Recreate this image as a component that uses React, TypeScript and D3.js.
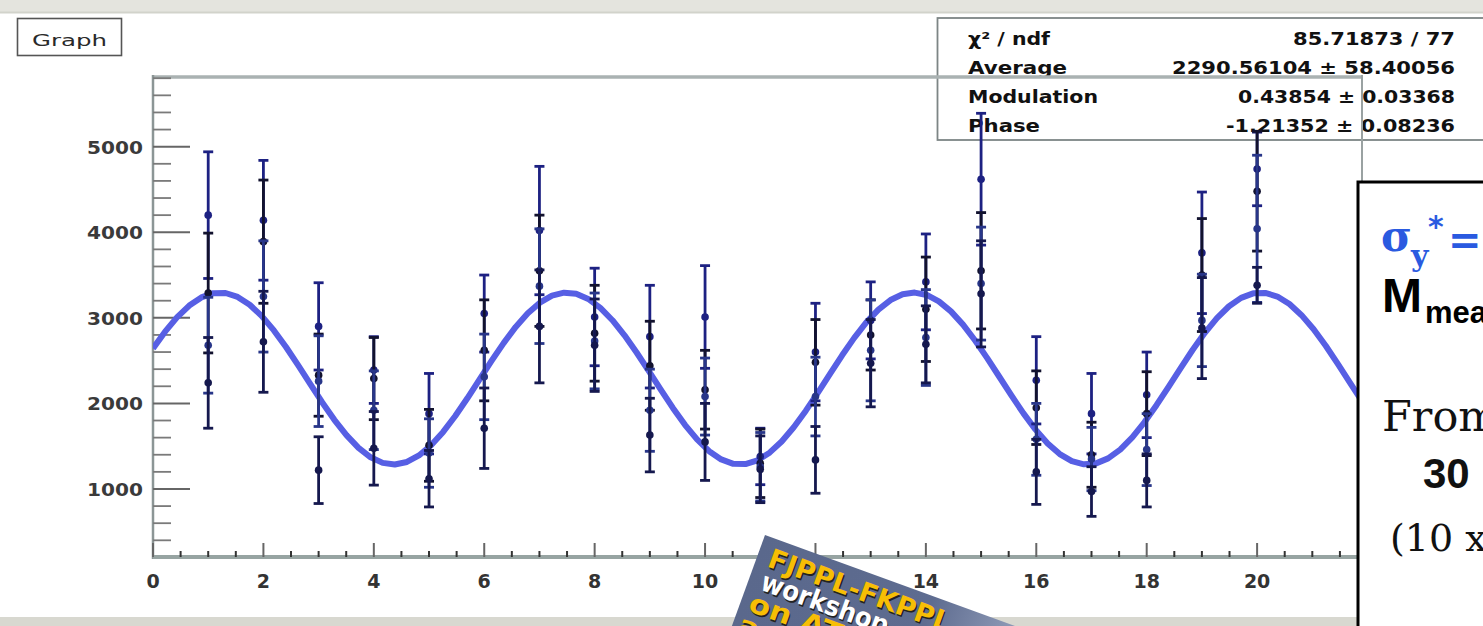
import React from "react";
import * as d3 from "d3";

const W = 1483;
const H = 626;

// ---- data ----
const xValues = [1, 2, 3, 4, 5, 6, 7, 8, 9, 10, 11, 12, 13, 14, 15, 16, 17, 18, 19, 20];
const seriesA = [4200, 4140, 2900, 2390, 1880, 3050, 4020, 3010, 2780, 3010, 1380, 2600, 2970, 3420, 4620, 2270, 1880, 2100, 3760, 4740];
const errorsA = [740, 700, 510, 390, 470, 450, 750, 570, 600, 600, 330, 570, 450, 560, 770, 510, 470, 500, 710, 430];
const seriesB = [3290, 3890, 2330, 2290, 1510, 2620, 3550, 2820, 2440, 2160, 1300, 2480, 2800, 3100, 3550, 1950, 1400, 1880, 3500, 4480];
const errorsB = [700, 720, 480, 480, 420, 590, 650, 560, 520, 460, 400, 500, 410, 610, 680, 430, 380, 490, 660, 700];
const seriesC = [2680, 3250, 2260, 1920, 1420, 2310, 3370, 2730, 1920, 2080, 1260, 2080, 2620, 2770, 3400, 1580, 1350, 1460, 2970, 4040];
const errorsC = [560, 650, 530, 460, 400, 500, 670, 560, 480, 450, 400, 460, 590, 560, 660, 420, 370, 420, 540, 860];
const seriesD = [2240, 2720, 1220, 1475, 1120, 1710, 2900, 2680, 1630, 1550, 1230, 1340, 2470, 2690, 3280, 1200, 970, 1100, 2880, 3380];
const errorsD = [530, 590, 390, 430, 330, 470, 660, 540, 430, 450, 390, 390, 510, 450, 620, 380, 290, 310, 590, 210];

const statNames = ["χ² / ndf", "Average", "Modulation", "Phase"];
const statValues = ["85.71873 / 77", "2290.56104 ± 58.40056", "0.43854 ± 0.03368", "-1.21352 ± 0.08236"];

const fitAverage = 2290.56104;
const fitModulation = 0.43854;
const fitPhase = -1.21352;

const yMajorTicks = [1000, 2000, 3000, 4000, 5000];
const xMajorTicks = [0, 2, 4, 6, 8, 10, 12, 14, 16, 18, 20];

const labelLines = ["FJPPL-FKPPL", "workshop", "on ATF2", "accelerator"];

const xScale = d3.scaleLinear().domain([0, 21.9]).range([153, 1362]);
const yScale = d3.scaleLinear().domain([205, 5826]).range([557, 76]);

const seriesList = [
  { v: seriesA, e: errorsA, color: "#1d2182" },
  { v: seriesB, e: errorsB, color: "#12122e" },
  { v: seriesC, e: errorsC, color: "#283689" },
  { v: seriesD, e: errorsD, color: "#15184e" },
];

const fitFn = (x: number) => fitAverage * (1 + fitModulation * Math.cos(x + fitPhase));

export default function App() {
  const yMinor = d3.range(400, 5801, 200).filter((v) => v % 1000 !== 0);
  const xMinor = d3.range(0, 21.9, 0.5).filter((v) => v % 2 !== 0);
  const curvePts: [number, number][] = d3
    .range(0, 101)
    .map((i) => (21.9 * i) / 100)
    .map((x) => [xScale(x), yScale(fitFn(x))]);
  const line = d3.line();

  const stRowY = [45, 74, 103, 132];
  const stLeftLen = [82, 99, 130, 72];
  const stRightLen = [162, 283, 217, 229];

  const lblStyle = [
    { y: 29, x: 12, len: 192, c: "#f7be05" },
    { y: 53, x: 13, len: 134, c: "#ffffff" },
    { y: 77, x: 9, len: 140, c: "#f7be05" },
    { y: 101, x: 6, len: 200, c: "#f7be05" },
  ];

  return (
    <svg
      width={W}
      height={H}
      viewBox={`0 0 ${W} ${H}`}
      style={{ position: "absolute", left: 0, top: 0, background: "#fff" }}
    >
      <defs>
        <linearGradient id="lblg" x1="0" x2="1" y1="0" y2="0">
          <stop offset="0" stopColor="#5a688c" />
          <stop offset="0.5" stopColor="#5e6c90" />
          <stop offset="0.72" stopColor="#8a96b3" />
          <stop offset="1" stopColor="#a4aec6" />
        </linearGradient>
        <clipPath id="plotclip">
          <rect x={153} y={60} width={1204} height={500} />
        </clipPath>
      </defs>
      {/* slide bands */}
      <rect x={0} y={0} width={W} height={12} fill="#e4e4de" />
      <line x1={0} x2={W} y1={12.5} y2={12.5} stroke="#d2d3cb" strokeWidth={2} />
      <rect x={0} y={617} width={W} height={9} fill="#d8d8d0" />

      {/* Title box */}
      <rect x={17.5} y={18.5} width={104} height={37} fill="#fff" stroke="#555" strokeWidth={1.6} />
      <text x={32} y={46} fontFamily="DejaVu Sans" fontSize={16} fill="#2a2a2a" textLength={75} lengthAdjust="spacingAndGlyphs">
        Graph
      </text>

      {/* Stats box */}
      <rect x={937.5} y={18} width={600} height={122} fill="#fff" stroke="#7d8585" strokeWidth={1.8} />
      {statNames.map((n, i) => (
        <text key={"sn" + i} x={968} y={stRowY[i]} fontFamily="DejaVu Sans" fontWeight="bold" fontSize={17} fill="#111" textLength={stLeftLen[i]} lengthAdjust="spacingAndGlyphs">
          {n}
        </text>
      ))}
      {statValues.map((n, i) => (
        <text key={"sv" + i} x={1455 - stRightLen[i]} y={stRowY[i]} fontFamily="DejaVu Sans" fontWeight="bold" fontSize={17} fill="#111" textLength={stRightLen[i]} lengthAdjust="spacingAndGlyphs">
          {n}
        </text>
      ))}

      {/* Frame */}
      <line x1={153} x2={1362} y1={77} y2={77} stroke="#aab2b2" strokeWidth={3.5} />
      <line x1={1362} x2={1362} y1={75} y2={560} stroke="#9aa2a2" strokeWidth={2} />
      <line x1={153} x2={153} y1={75} y2={559} stroke="#8c9696" strokeWidth={2.5} />
      <line x1={153} x2={1362} y1={557} y2={557} stroke="#97a4a2" strokeWidth={4} />

      {/* Y ticks */}
      {yMajorTicks.map((t) => (
        <g key={"ym" + t}>
          <line x1={153} x2={190} y1={yScale(t)} y2={yScale(t)} stroke="#666" strokeWidth={2} />
          <text x={143} y={yScale(t) + 7} textAnchor="end" fontFamily="DejaVu Sans" fontWeight="bold" fontSize={18} fill="#3a3a3a" textLength={56} lengthAdjust="spacingAndGlyphs">
            {t}
          </text>
        </g>
      ))}
      {yMinor.map((t) => (
        <line key={"yn" + t} x1={153} x2={171} y1={yScale(t)} y2={yScale(t)} stroke="#7a7a7a" strokeWidth={1.8} />
      ))}

      {/* X ticks */}
      {xMajorTicks.map((t) => (
        <g key={"xm" + t}>
          <line x1={xScale(t)} x2={xScale(t)} y1={557} y2={543} stroke="#666" strokeWidth={2} />
          <text x={xScale(t)} y={588} textAnchor="middle" fontFamily="DejaVu Sans" fontWeight="bold" fontSize={19} fill="#333">
            {t}
          </text>
        </g>
      ))}
      {xMinor.map((t) => (
        <line key={"xn" + t} x1={xScale(t)} x2={xScale(t)} y1={557} y2={551} stroke="#333" strokeWidth={2} />
      ))}

      {/* Fit curve */}
      <g clipPath="url(#plotclip)">
        <path d={line(curvePts) || ""} fill="none" stroke="#575fe4" strokeWidth={6} strokeLinejoin="round" />
      </g>

      {/* Data points with error bars */}
      {seriesList.map((s, si) => (
        <g key={"s" + si} stroke={s.color} fill={s.color}>
          {xValues.map((x, i) => {
            const cx = xScale(x);
            const yt = yScale(s.v[i] + s.e[i]);
            const yb = yScale(s.v[i] - s.e[i]);
            return (
              <g key={i}>
                <line x1={cx} x2={cx} y1={yt} y2={yb} strokeWidth={2.8} />
                <line x1={cx - 5} x2={cx + 5} y1={yt} y2={yt} strokeWidth={2.8} />
                <line x1={cx - 5} x2={cx + 5} y1={yb} y2={yb} strokeWidth={2.8} />
                <circle cx={cx} cy={yScale(s.v[i])} r={3.8} stroke="none" />
              </g>
            );
          })}
        </g>
      ))}

      {/* Right black box */}
      <rect x={1358} y={182} width={200} height={480} fill="#fff" stroke="#000" strokeWidth={3} />
      <text x={1381} y={251} fontFamily="DejaVu Serif" fontWeight="bold" fontSize={42} fill="#2a5ae0">σ</text>
      <text x={1411} y={266} fontFamily="DejaVu Serif" fontWeight="bold" fontSize={30} fill="#2a5ae0">y</text>
      <text x={1428} y={237} fontFamily="DejaVu Sans" fontWeight="bold" fontSize={30} fill="#2a5ae0">*</text>
      <text x={1448} y={254} fontFamily="DejaVu Sans" fontWeight="bold" fontSize={40} fill="#2a5ae0">=</text>
      <text x={1382} y={312} fontFamily="Liberation Sans" fontWeight="bold" fontSize={48} fill="#000">M</text>
      <text x={1425} y={323} fontFamily="Liberation Sans" fontWeight="bold" fontSize={31} fill="#000">meas</text>
      <text x={1382} y={431} fontFamily="DejaVu Serif" fontSize={43} fill="#111">From</text>
      <text x={1423} y={488} fontFamily="Liberation Sans" fontWeight="bold" fontSize={42} fill="#111">30</text>
      <text x={1390} y={551} fontFamily="DejaVu Serif" fontSize={38} fill="#111">(10 x</text>

      {/* Rotated workshop label */}
      <g transform="translate(765,535) rotate(20)">
        <rect x={0} y={0} width={360} height={220} fill="url(#lblg)" />
        {labelLines.map((t, i) => {
          const l = lblStyle[i];
          return (
            <g key={"lb" + i}>
              <text x={l.x + 1.5} y={l.y + 1.5} fontFamily="DejaVu Sans" fontWeight="bold" fontSize={27} fill="#222" textLength={l.len} lengthAdjust="spacingAndGlyphs">
                {t}
              </text>
              <text x={l.x} y={l.y} fontFamily="DejaVu Sans" fontWeight="bold" fontSize={27} fill={l.c} textLength={l.len} lengthAdjust="spacingAndGlyphs">
                {t}
              </text>
            </g>
          );
        })}
      </g>
    </svg>
  );
}
